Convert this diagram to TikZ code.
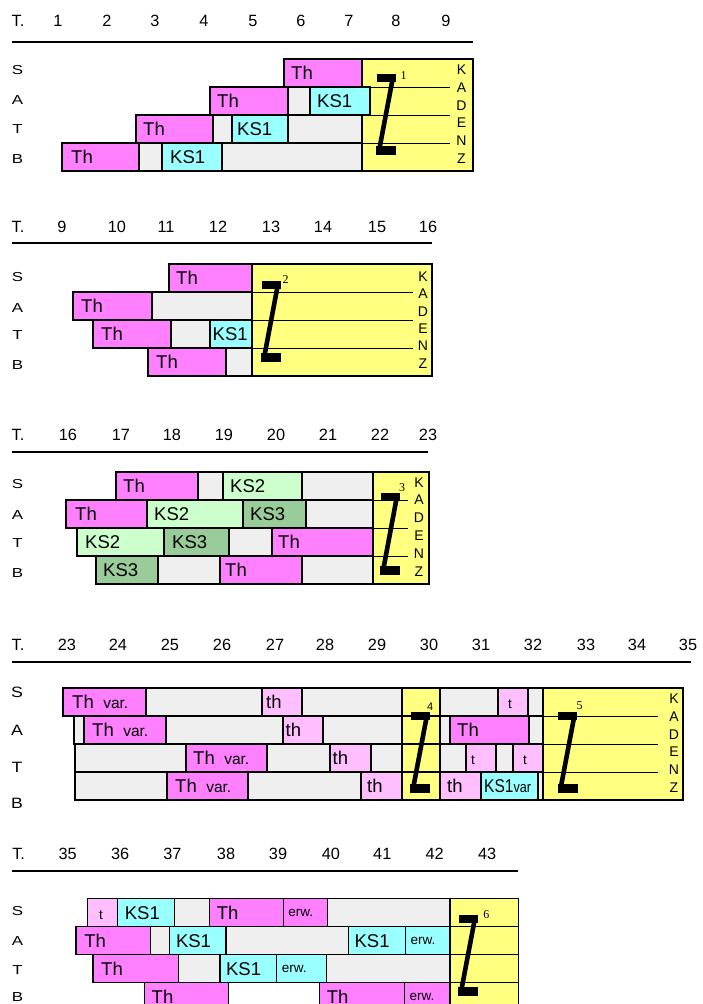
\documentclass[tikz,border=0pt]{standalone}
\usepackage{fontspec}
\setmainfont{Liberation Sans}
\newfontfamily\serifnum{Liberation Serif}
\definecolor{cmag}{HTML}{FF80FF}
\definecolor{ccyan}{HTML}{99FFFF}
\definecolor{cgray}{HTML}{EFEFEF}
\definecolor{cyel}{HTML}{FFFF80}
\definecolor{cgrnl}{HTML}{CCFFCC}
\definecolor{cgrnd}{HTML}{99CC99}
\definecolor{cpink}{HTML}{FFBFFF}
\tikzset{
 cellline/.style={draw=black, line width=1.3pt},
 kline/.style={draw=black, line width=1pt},
 celltext/.style={inner sep=0pt, anchor=base west, font=\fontsize{18.5}{20}\selectfont},
 smalltext/.style={inner sep=0pt, anchor=base, font=\fontsize{13.5}{15}\selectfont},
 erwtext/.style={inner sep=0pt, anchor=base west, font=\fontsize{13.5}{15}\selectfont},
 hdr/.style={inner sep=0pt, font=\fontsize{16.3}{17}\selectfont},
 hline/.style={draw=black, line width=1.3pt},
 rowlab/.style={inner sep=0pt, font=\fontsize{13}{14}\selectfont},
 rowlabb/.style={inner sep=0pt, font=\fontsize{15}{16}\selectfont},
 zlab/.style={inner sep=0pt, font=\serifnum\fontsize{12}{13}\selectfont},
 zlabs/.style={inner sep=0pt, font=\fontsize{11}{12}\selectfont},
 kad/.style={inner sep=0pt, align=center},
}
\newcommand\wide[1]{\scalebox{1.3}[1]{#1}}
\newcommand\widb[1]{\scalebox{1.18}[1]{#1}}
\newcommand\cl[4]{\draw[cellline,fill=#4] (#1,#3) rectangle (#2,{#3+28});}
\newcommand\tx[5][7]{\node[celltext] (#2) at ({#3+#1},{#4+20.8}) {#5};}
\newcommand\tcell[3]{\node[smalltext] (#1) at (#2,{#3+20.5}) {t};}
\newcommand\erw[3]{\node[erwtext] (#1) at ({#2+5},{#3+17.6}) {erw.};}
\newcommand\zz[3]{%
 \fill ({#1+0.5},#2) rectangle ({#1+19.5},{#2+8});
 \fill (#1,#3) rectangle ({#1+20},{#3+9});
 \draw[line width=4.6pt] ({#1+17},{#2+3}) -- ({#1+3},{#3+5});
}
\newcommand\thvar{Th\hspace{9.5pt}{\fontsize{15.5}{16}\selectfont var.}}
\begin{document}
\begin{tikzpicture}[x=1pt,y=-1pt]
\useasboundingbox (0,0) rectangle (702,1004);
\clip (0,0) rectangle (702,1004);
% ================= Section 1
\node[hdr] (t1) at (18,21) {T.};
\foreach \n/\x in {1/58,2/107,3/155,4/204,5/253,6/301,7/349,8/396,9/446}
  \node[hdr] (ha\n) at (\x,21) {\n};
\coordinate (la1) at (12,42); \coordinate (la2) at (473,42);
\draw[hline] (la1) -- (la2);
\node[rowlab] (r1s) at (17.5,70.5) {\wide{S}};
\node[rowlab] (r1a) at (17.5,100.5) {\wide{A}};
\node[rowlab] (r1t) at (17.5,128.7) {\wide{T}};
\node[rowlab] (r1b) at (17.5,159) {\wide{B}};
\draw[cellline,fill=cyel] (362,59) rectangle (473,171);
\foreach \y in {87,115,143} \draw[kline] (362,\y) -- (450,\y);
\cl{284}{362}{59}{cmag} \tx{a1}{284}{59}{Th}
\cl{210}{288}{87}{cmag} \tx{a2}{210}{87}{Th}
\cl{288}{310}{87}{cgray}
\cl{310}{370}{87}{ccyan} \tx{a3}{310}{87}{KS1}
\cl{136}{213}{115}{cmag} \tx{a4}{136}{115}{Th}
\cl{213}{232}{115}{cgray}
\cl{232}{288}{115}{ccyan} \tx[5]{a5}{232}{115}{KS1}
\cl{288}{362}{115}{cgray}
\cl{62}{139}{143}{cmag} \tx[9]{a6}{62}{143}{Th}
\cl{139}{162}{143}{cgray}
\cl{162}{222}{143}{ccyan} \tx[8]{a7}{162}{143}{KS1}
\cl{222}{362}{143}{cgray}
\zz{376}{74}{146}
\node[zlab] (z1) at (403.7,75.8) {1};
\node[kad,font=\fontsize{14}{17.7}\selectfont] (k1) at (461.5,114.3) {K\\A\\D\\E\\N\\Z};
% ================= Section 2
\node[hdr] (t2) at (18,227) {T.};
\foreach \n/\x in {9/62,10/117,11/166,12/218,13/271,14/323,15/377,16/428}
  \node[hdr] (hb\n) at (\x,227) {\n};
\coordinate (lb1) at (12,243); \coordinate (lb2) at (432,243);
\draw[hline] (lb1) -- (lb2);
\node[rowlab] (r2s) at (17.5,277) {\wide{S}};
\node[rowlab] (r2a) at (17.5,308.5) {\wide{A}};
\node[rowlab] (r2t) at (17.5,335) {\wide{T}};
\node[rowlab] (r2b) at (17.5,364.7) {\wide{B}};
\draw[cellline,fill=cyel] (252,264) rectangle (432,376);
\foreach \y in {292,320,348} \draw[kline] (252,\y) -- (413,\y);
\cl{169}{252}{264}{cmag} \tx{b1}{169}{264}{Th}
\cl{73}{152}{292}{cmag} \tx[8]{b2}{73}{292}{Th}
\cl{152}{252}{292}{cgray}
\cl{93}{171}{320}{cmag} \tx[8]{b3}{93}{320}{Th}
\cl{171}{210}{320}{cgray}
\cl{210}{252}{320}{ccyan} \tx[2.5]{b4}{210}{320}{KS1}
\cl{148}{226}{348}{cmag} \tx[8]{b5}{148}{348}{Th}
\cl{226}{252}{348}{cgray}
\zz{261}{281}{353}
\node[zlab] (z2) at (285.5,279.5) {2};
\node[kad,font=\fontsize{14}{17.3}\selectfont] (k2) at (423,320) {K\\A\\D\\E\\N\\Z};
% ================= Section 3
\node[hdr] (t3) at (18,435) {T.};
\foreach \n/\x in {16/68,17/121,18/172,19/224,20/276,21/328,22/380,23/428}
  \node[hdr] (hc\n) at (\x,435) {\n};
\coordinate (lc1) at (12,452); \coordinate (lc2) at (428,452);
\draw[hline] (lc1) -- (lc2);
\node[rowlab] (r3s) at (17.5,483.7) {\wide{S}};
\node[rowlab] (r3a) at (17.5,514.7) {\wide{A}};
\node[rowlab] (r3t) at (17.5,543) {\wide{T}};
\node[rowlab] (r3b) at (17.5,573) {\wide{B}};
\draw[cellline,fill=cyel] (373,472) rectangle (429,584);
\foreach \y in {500,528,556} \draw[kline] (373,\y) -- (408,\y);
\cl{116}{198}{472}{cmag} \tx{c1}{116}{472}{Th}
\cl{198}{223}{472}{cgray}
\cl{223}{302}{472}{cgrnl} \tx{c2}{223}{472}{KS2}
\cl{302}{373}{472}{cgray}
\cl{66}{147}{500}{cmag} \tx[9]{c3}{66}{500}{Th}
\cl{147}{243}{500}{cgrnl} \tx{c4}{147}{500}{KS2}
\cl{243}{306}{500}{cgrnd} \tx{c5}{243}{500}{KS3}
\cl{306}{373}{500}{cgray}
\cl{77}{164}{528}{cgrnl} \tx[8]{c6}{77}{528}{KS2}
\cl{164}{229}{528}{cgrnd} \tx[8]{c7}{164}{528}{KS3}
\cl{229}{272}{528}{cgray}
\cl{272}{373}{528}{cmag} \tx[6]{c8}{272}{528}{Th}
\cl{96}{158}{556}{cgrnd} \tx{c9}{96}{556}{KS3}
\cl{158}{220}{556}{cgray}
\cl{220}{302}{556}{cmag} \tx[5]{c10}{220}{556}{Th}
\cl{302}{373}{556}{cgray}
\zz{380}{493}{566}
\node[zlab] (z3) at (402,487.5) {3};
\node[kad,font=\fontsize{14}{17.9}\selectfont] (k3) at (419,527) {K\\A\\D\\E\\N\\Z};
% ================= Section 4
\node[hdr] (t4) at (18,645) {T.};
\foreach \n/\x in {23/67,24/118,25/170,26/222,27/275,28/325,29/377,30/429,31/481,32/533,33/586,34/637,35/688}
  \node[hdr] (hd\n) at (\x,645) {\n};
\coordinate (ld1) at (12,662); \coordinate (ld2) at (691,662);
\draw[hline] (ld1) -- (ld2);
\node[rowlabb] (r4s) at (17,692) {\widb{S}};
\node[rowlabb] (r4a) at (17,730.5) {\widb{A}};
\node[rowlabb] (r4t) at (17,767) {\widb{T}};
\node[rowlabb] (r4b) at (17,803.5) {\widb{B}};
\draw[cellline,fill=cyel] (402,688) rectangle (440,800);
\foreach \y in {716,744,772} \draw[cellline] (402,\y) -- (440,\y);
\draw[cellline,fill=cyel] (543,688) rectangle (683,800);
\foreach \y in {716,744,772} \draw[kline] (543,\y) -- (658,\y);
% S
\cl{63}{146}{688}{cmag} \tx[9]{d1}{63}{688}{\thvar}
\cl{146}{262}{688}{cgray}
\cl{262}{302}{688}{cpink} \tx[4]{d2}{262}{688}{th}
\cl{302}{402}{688}{cgray}
\cl{440}{498}{688}{cgray}
\cl{498}{528}{688}{cpink} \tcell{d3}{510}{688}
\cl{528}{543}{688}{cgray}
% A
\cl{74}{84}{716}{cgray}
\cl{84}{166}{716}{cmag} \tx[8]{d4}{84}{716}{\thvar}
\cl{166}{283}{716}{cgray}
\cl{283}{323}{716}{cpink} \tx[2.5]{d5}{283}{716}{th}
\cl{323}{402}{716}{cgray}
\cl{440}{450}{716}{cgray}
\cl{450}{529}{716}{cmag} \tx{d6}{450}{716}{Th}
\cl{529}{543}{716}{cgray}
% T
\cl{75}{186}{744}{cgray}
\cl{186}{267}{744}{cmag} \tx{d7}{186}{744}{\thvar}
\cl{267}{330}{744}{cgray}
\cl{330}{371}{744}{cpink} \tx[2.5]{d8}{330}{744}{th}
\cl{371}{402}{744}{cgray}
\cl{440}{466}{744}{cgray}
\cl{466}{496}{744}{cpink} \tcell{d9}{473}{744}
\cl{496}{513}{744}{cgray}
\cl{513}{543}{744}{cpink} \tcell{d10}{525}{744}
% B
\cl{75}{167}{772}{cgray}
\cl{167}{248}{772}{cmag} \tx[8]{d11}{167}{772}{\thvar}
\cl{248}{361}{772}{cgray}
\cl{361}{402}{772}{cpink} \tx[6]{d12}{361}{772}{th}
\cl{440}{481}{772}{cpink} \tx[7]{d13}{440}{772}{th}
\cl{481}{538}{772}{ccyan} \tx[3]{d14}{481}{772}{\scalebox{0.84}[1]{KS1{\fontsize{15}{16}\selectfont var}}}
\cl{538}{543}{772}{cgray}
\zz{410}{712}{784}
\node[zlabs] (z4) at (430.3,707) {4};
\zz{557.5}{712}{784}
\node[zlab] (z5) at (579.7,705.3) {5};
\node[kad,font=\fontsize{14}{17.8}\selectfont] (k4) at (674,743.2) {K\\A\\D\\E\\N\\Z};
% ================= Section 5
\node[hdr] (t5) at (18.6,853.5) {T.};
\foreach \n/\x in {35/67.7,36/120.1,37/172.5,38/226,39/278,40/330.9,41/382.3,42/434.7,43/487.1}
  \node[hdr] (he\n) at (\x,853.5) {\n};
\coordinate (le1) at (12,871.1); \coordinate (le2) at (517.6,871.1);
\draw[hline] (le1) -- (le2);
\node[rowlab] (r5s) at (17.5,911) {\wide{S}};
\node[rowlab] (r5a) at (17.5,940.6) {\wide{A}};
\node[rowlab] (r5t) at (17.5,969.8) {\wide{T}};
\node[rowlab] (r5b) at (17.5,997.4) {\wide{B}};
\draw[cellline,fill=cyel] (450,898.5) rectangle (518.3,1012);
\foreach \y in {926.5,954.5,982.5} \draw[cellline] (450,\y) -- (518.3,\y);
% S
\cl{87.3}{117.7}{898.5}{cpink} \tcell{e1}{101}{898.5}
\cl{117.7}{174.2}{898.5}{ccyan} \tx{e2}{117.7}{898.5}{KS1}
\cl{174.2}{209.7}{898.5}{cgray}
\cl{209.7}{283.2}{898.5}{cmag} \tx{e3}{209.7}{898.5}{Th}
\cl{283.2}{327.5}{898.5}{cmag} \erw{e4}{283.2}{898.5}
\cl{327.5}{450}{898.5}{cgray}
% A
\cl{76.1}{150.5}{926.5}{cmag} \tx[8]{e5}{76.1}{926.5}{Th}
\cl{150.5}{169.8}{926.5}{cgray}
\cl{169.8}{226}{926.5}{ccyan} \tx[6]{e6}{169.8}{926.5}{KS1}
\cl{226}{348.4}{926.5}{cgray}
\cl{348.4}{405.3}{926.5}{ccyan} \tx[6]{e7}{348.4}{926.5}{KS1}
\cl{405.3}{450}{926.5}{ccyan} \erw{e8}{405.3}{926.5}
% T
\cl{93}{178.3}{954.5}{cmag} \tx[8]{e9}{93}{954.5}{Th}
\cl{178.3}{219.9}{954.5}{cgray}
\cl{219.9}{276.7}{954.5}{ccyan} \tx[6]{e10}{219.9}{954.5}{KS1}
\cl{276.7}{326.5}{954.5}{ccyan} \erw{e11}{276.7}{954.5}
\cl{326.5}{450}{954.5}{cgray}
% B
\cl{144.5}{228.4}{982.5}{cmag} \tx{e12}{144.5}{982.5}{Th}
\cl{319.7}{404.3}{982.5}{cmag} \tx{e13}{319.7}{982.5}{Th}
\cl{404.3}{450}{982.5}{cmag} \erw{e14}{404.3}{982.5}
\zz{458}{915}{987}
\node[zlab] (z6) at (486.3,914.2) {6};
\end{tikzpicture}
\end{document}
